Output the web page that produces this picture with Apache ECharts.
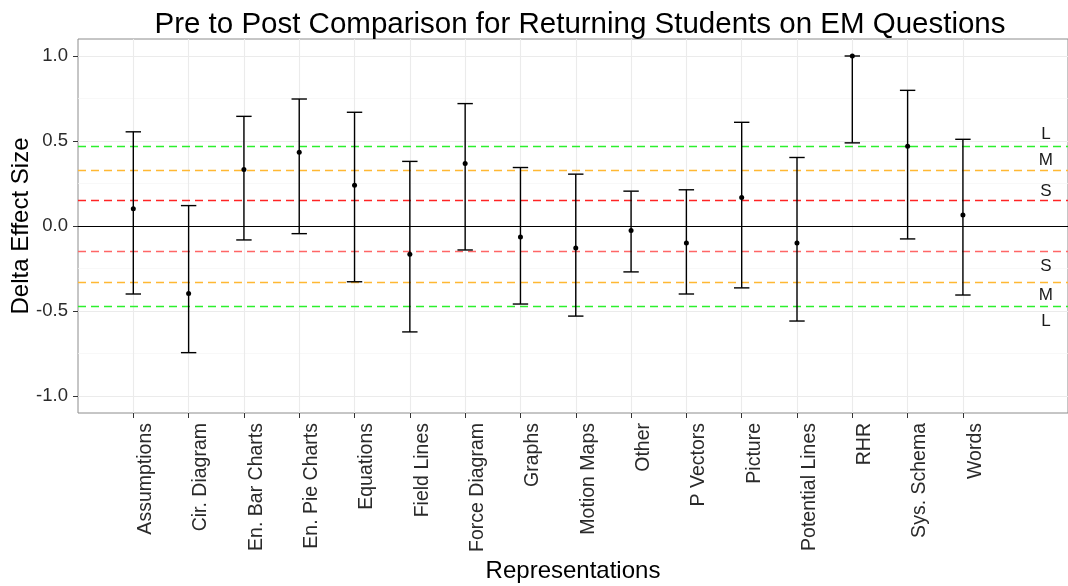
<!DOCTYPE html>
<html>
<head>
<meta charset="utf-8">
<script src="https://cdn.jsdelivr.net/npm/echarts@6/dist/echarts.min.js"></script>
<style>
  html, body { margin: 0; padding: 0; background: #fff; }
  #chart { width: 1068px; height: 586px; }
</style>
</head>
<body>
<div id="chart"></div>
<script>
var categories = ['Assumptions', 'Cir. Diagram', 'En. Bar Charts', 'En. Pie Charts', 'Equations',
  'Field Lines', 'Force Diagram', 'Graphs', 'Motion Maps', 'Other', 'P Vectors', 'Picture',
  'Potential Lines', 'RHR', 'Sys. Schema', 'Words'];
var means = [0.102, -0.397, 0.333, 0.434, 0.240, -0.166, 0.368, -0.064, -0.129, -0.027, -0.100, 0.167, -0.100, 1.000, 0.469, 0.065];
var lowers = [-0.400, -0.745, -0.082, -0.045, -0.328, -0.623, -0.141, -0.459, -0.530, -0.270, -0.400, -0.364, -0.559, 0.489, -0.076, -0.406];
var uppers = [0.554, 0.120, 0.645, 0.747, 0.669, 0.380, 0.720, 0.344, 0.305, 0.205, 0.213, 0.610, 0.403, 1.000, 0.798, 0.510];

var yTicks = [-1.0, -0.5, 0.0, 0.5, 1.0];
var yMinorGrid = [-0.75, -0.25, 0.25, 0.75];
var thresholds = [0.147, 0.33, 0.474];
var thresholdNames = ['S', 'M', 'L'];
var upperColors = ['#ff2424', '#ffb833', '#2cf02c'];
var lowerColors = ['#ff6666', '#ffb833', '#2cf02c'];
var sizeLabelX = 16.5;
var sizeLabelUpperY = [0.205, 0.387, 0.538];
var sizeLabelLowerY = [-0.235, -0.410, -0.563];

var idx = categories.map(function (c, i) { return i; });

var errData = idx.map(function (i) { return [i, lowers[i], uppers[i]]; });
var meanData = idx.map(function (i) { return [i, means[i]]; });

var gridLinesData = [];
yMinorGrid.forEach(function (v) { gridLinesData.push({ yAxis: v, lineStyle: { color: '#f5f5f5', width: 0.7, type: 'solid' } }); });
idx.forEach(function (i) { gridLinesData.push({ xAxis: i, lineStyle: { color: '#ebebeb', width: 1.1, type: 'solid' } }); });
yTicks.forEach(function (v) { gridLinesData.push({ yAxis: v, lineStyle: { color: '#ebebeb', width: 1.1, type: 'solid' } }); });

var refLinesData = [{ yAxis: 0, lineStyle: { color: '#000', width: 1.1, type: 'solid' } }];
thresholds.forEach(function (t, k) {
  refLinesData.push({ yAxis: t, lineStyle: { color: upperColors[k], width: 1.3, type: [8, 5] } });
  refLinesData.push({ yAxis: -t, lineStyle: { color: lowerColors[k], width: 1.3, type: [8, 5] } });
});

var sizeLabels = [];
thresholdNames.forEach(function (n, k) {
  sizeLabels.push({ value: [sizeLabelX, sizeLabelUpperY[k]], name: n });
  sizeLabels.push({ value: [sizeLabelX, sizeLabelLowerY[k]], name: n });
});

var chart = echarts.init(document.getElementById('chart'), null, { renderer: 'canvas' });
var fontFam = '"Liberation Sans", Arial, sans-serif';

chart.setOption({
  animation: false,
  backgroundColor: '#ffffff',
  title: {
    text: 'Pre to Post Comparison for Returning Students on EM Questions',
    left: 575, top: 5, textAlign: 'center',
    textStyle: { fontFamily: fontFam, fontSize: 29.5, fontWeight: 'normal', color: '#000' }
  },
  grid: {
    left: 78, right: 0, top: 39, bottom: 173,
    containLabel: false, outerBoundsMode: 'none',
    show: true, borderColor: '#8c8c8c', borderWidth: 1, backgroundColor: 'transparent'
  },
  xAxis: {
    type: 'value', min: -1, max: 16.9,
    name: 'Representations', nameLocation: 'middle', nameGap: 146, nameMoveOverlap: false,
    nameTextStyle: { fontFamily: fontFam, fontSize: 24, color: '#000' },
    axisLine: { show: false, onZero: false },
    splitLine: { show: false },
    axisTick: { show: true, inside: false, length: 5, customValues: idx, lineStyle: { color: '#333', width: 1 } },
    axisLabel: {
      customValues: idx, rotate: 90, margin: 10, verticalAlign: 'top', lineHeight: 25,
      fontFamily: fontFam, fontSize: 19.5, color: '#2a2a2a',
      formatter: function (v) { var i = Math.round(v); return categories[i] || ''; }
    }
  },
  yAxis: {
    type: 'value', min: -1.1, max: 1.1,
    name: 'Delta Effect Size', nameLocation: 'middle', nameGap: 45, nameMoveOverlap: false,
    nameTextStyle: { fontFamily: fontFam, fontSize: 24, color: '#000' },
    axisLine: { show: false, onZero: false },
    splitLine: { show: false },
    axisTick: { show: true, inside: false, length: 5, customValues: yTicks, lineStyle: { color: '#333', width: 1 } },
    axisLabel: {
      customValues: yTicks, margin: 10,
      fontFamily: fontFam, fontSize: 18.5, color: '#2a2a2a',
      formatter: function (v) { return v.toFixed(1); }
    }
  },
  series: [
    {
      type: 'scatter', name: 'grid', data: [], z: 0, silent: true,
      markLine: { silent: true, z: 0, symbol: 'none', label: { show: false }, animation: false, data: gridLinesData }
    },
    {
      type: 'scatter', name: 'refs', data: [], z: 1, silent: true,
      markLine: { silent: true, z: 1, symbol: 'none', label: { show: false }, animation: false, data: refLinesData }
    },
    {
      type: 'custom', name: 'ci', z: 2, data: errData,
      renderItem: function (params, api) {
        var x = api.value(0);
        var lo = api.coord([x, api.value(1)]);
        var hi = api.coord([x, api.value(2)]);
        var hw = 7.7;
        var st = { stroke: '#000', lineWidth: 1.4, fill: null };
        return {
          type: 'group',
          children: [
            { type: 'line', shape: { x1: lo[0], y1: lo[1], x2: hi[0], y2: hi[1] }, style: st },
            { type: 'line', shape: { x1: lo[0] - hw, y1: lo[1], x2: lo[0] + hw, y2: lo[1] }, style: st },
            { type: 'line', shape: { x1: hi[0] - hw, y1: hi[1], x2: hi[0] + hw, y2: hi[1] }, style: st }
          ]
        };
      }
    },
    {
      type: 'scatter', name: 'mean', z: 3, data: meanData,
      symbol: 'circle', symbolSize: 5, itemStyle: { color: '#000', opacity: 1 }
    },
    {
      type: 'scatter', name: 'sizes', z: 3, data: sizeLabels,
      symbolSize: 0, silent: true, itemStyle: { opacity: 1 },
      label: {
        show: true, position: 'inside', formatter: function (p) { return p.name; },
        fontFamily: fontFam, fontSize: 17, color: '#1a1a1a'
      }
    }
  ]
});
</script>
</body>
</html>
